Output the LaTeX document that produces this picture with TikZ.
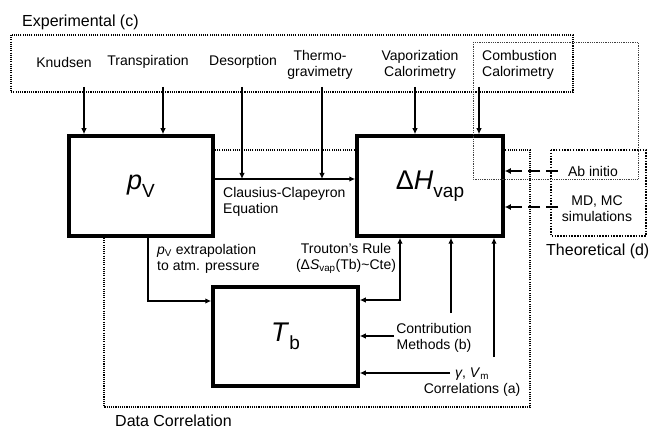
\documentclass[tikz,border=0pt]{standalone}
\usepackage{fontspec}
\setmainfont{Liberation Sans}
\usetikzlibrary{arrows.meta,calc}
\begin{document}
\begin{tikzpicture}[x=1pt,y=-1pt,
  lbl/.style={inner sep=0pt,font=\fontsize{14}{16}\selectfont,align=center},
  biglbl/.style={inner sep=0pt,font=\fontsize{16}{19}\selectfont},
  mainbox/.style={draw,line width=3.5pt,fill=white,inner sep=0pt,font=\fontsize{27}{30}\selectfont},
  tipend/.style={-{Latex[length=6pt,width=5.5pt]}},
  bitip/.style={{Latex[length=6pt,width=5.5pt]}-{Latex[length=6pt,width=5.5pt]}},
  thickarr/.style={tipend,line width=1.8pt},
  thinarr/.style={tipend,line width=1.1pt},
  dotbox/.style={line width=1.1pt,dash pattern=on 1.1pt off 1.1pt},
  thindot/.style={line width=0.7pt,dash pattern=on 0.8pt off 1pt,black!75},
  heavydot/.style={line width=1.5pt,dash pattern=on 1.5pt off 1.3pt},
  dasharr/.style={-{Latex[length=6pt,width=6pt]},line width=2pt,dash pattern=on 12pt off 6pt}
]
\useasboundingbox (0,0) rectangle (653,430);

% dotted group boxes (behind)
\draw[dotbox] (11,35) rectangle (573,92);
\draw[dotbox] (104,150) rectangle (530,407);
\draw[heavydot] (551,150) rectangle (646,236);

% main boxes
\node[mainbox,minimum width=144pt,minimum height=100pt] (pv) at (141,186)
  {\textit{p}\raisebox{-0.28em}{\fontsize{19}{20}\selectfont V}};
\node[mainbox,minimum width=146pt,minimum height=100pt] (dh) at (430,186)
  {Δ\textit{H}\raisebox{-0.28em}{\fontsize{19}{20}\selectfont vap}};
\node[mainbox,minimum width=145pt,minimum height=99pt] (tb) at (285.5,336.5)
  {\textit{T}\raisebox{-0.28em}{\fontsize{19}{20}\selectfont b}};

% combustion box drawn in front
\draw[thindot] (473,42) rectangle (638,179);

% group labels
\node[biglbl,anchor=west] (exp) at (22,22) {Experimental (c)};
\node[biglbl,anchor=west] (dcor) at (115,421) {Data Correlation};
\node[biglbl,anchor=west] (theo) at (546,251) {Theoretical (d)};

% experimental methods
\node[lbl] (kn) at (64,62) {Knudsen};
\node[lbl] (tp) at (148,62) {Transpiration};
\node[lbl] (ds) at (243,62) {Desorption};
\node[lbl] (tg) at (320,65) {Thermo-\\gravimetry};
\node[lbl] (vc) at (420,65) {Vaporization\\Calorimetry};
\node[lbl,align=left,anchor=west] (cb) at (482,65) {Combustion\\Calorimetry};

\coordinate (knS) at (84,87);
\coordinate (tpS) at (163,87);
\coordinate (dsS) at (242,87);
\coordinate (tgS) at (322,87);
\coordinate (vcS) at (415,87);
\coordinate (cbS) at (479,87);
\coordinate (cc) at (213,179);

\draw[thickarr] (knS) -- (knS |- pv.north);
\draw[thickarr] (tpS) -- (tpS |- pv.north);
\draw[thickarr] (dsS) -- (dsS |- cc);
\draw[thickarr] (tgS) -- (tgS |- cc);
\draw[thickarr] (vcS) -- (vcS |- dh.north);
\draw[thickarr] (cbS) -- (cbS |- dh.north);

% Clausius-Clapeyron
\draw[thinarr,line width=1.2pt] (cc) -- (cc -| dh.west);
\node[lbl,align=left,anchor=west] (ccl) at (223,201.5) {Clausius-Clapeyron\\Equation};

% pV extrapolation
\coordinate (px) at (148,301);
\draw[thinarr] (pv.south -| px) -- (px) -- (px -| tb.west);
\node[lbl,align=left,anchor=west] (pxl) at (157,258.5) {\textit{p}\textsubscript{V} extrapolation\\to atm. pressure};

% Trouton
\coordinate (tr) at (400,300);
\draw[bitip,line width=1.2pt] (dh.south -| tr) -- (tr) -- (tr -| tb.east);
\node[lbl] (trl) at (346,258.5) {Trouton’s Rule\\(Δ\textit{S}\textsubscript{vap}(Tb)\textasciitilde Cte)};

% Contribution methods
\node[lbl] (cm) at (434,337.5) {Contribution\\Methods (b)};
\coordinate (cmU) at (451,313);
\coordinate (cmL) at (394,336);
\draw[thinarr] (cmU) -- (cmU |- dh.south);
\draw[thinarr] (cmL) -- (cmL -| tb.east);

% Correlations
\node[lbl] (corr) at (472,382) {\textit{γ}, \textit{V}\textsubscript{m}\\Correlations (a)};
\coordinate (coU) at (494,357);
\coordinate (coL) at (450,373);
\draw[thinarr,line width=1.3pt] (coU) -- (coU |- dh.south);
\draw[thinarr,line width=1.3pt] (coL) -- (coL -| tb.east);

% Theoretical
\node[lbl] (ab) at (593,171) {Ab initio};
\node[lbl] (md) at (597,208.5) {MD, MC\\simulations};
\coordinate (abS) at (558,171);
\coordinate (mdS) at (558,207);
\draw[dasharr] (abS) -- (abS -| dh.east);
\draw[dasharr] (mdS) -- (mdS -| dh.east);
\end{tikzpicture}
\end{document}
